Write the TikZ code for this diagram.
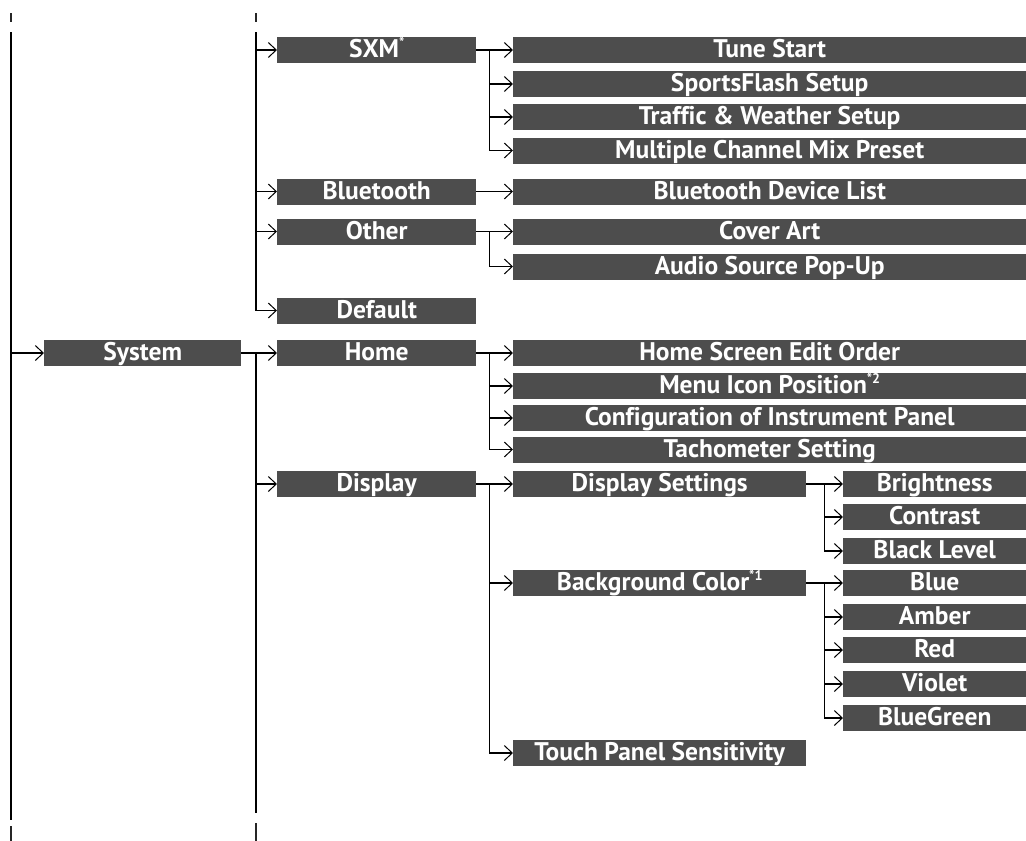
\documentclass[tikz,border=0pt]{standalone}
\usepackage{fontspec}
\setmainfont{PT Sans}[Ligatures=CommonOff]
\usetikzlibrary{positioning,arrows.meta}
\definecolor{boxgray}{RGB}{77,77,77}
\newcommand{\notemark}[1]{\raisebox{0.4em}{\fontsize{14}{14}\selectfont #1}}
\tikzset{
  menu/.style={fill=boxgray, text=white, anchor=west, inner sep=0pt,
               font=\fontsize{25.5}{25.5}\selectfont\bfseries,
               minimum height=26pt, text height=20.5pt, text depth=5.5pt},
  lvone/.style={menu, minimum width=197pt},
  lvtwo/.style={menu, minimum width=199pt},
  wide/.style={menu, minimum width=513pt},
  half/.style={menu, minimum width=293pt},
  leaf/.style={menu, minimum width=183pt},
  stem/.style={line width=1.5pt},
  flow/.style={stem, -{Straight Barb[length=8pt,width=15pt,line width=1pt]}},
  tick/.style={line width=1.2pt, black!85},
}
\begin{document}
\begin{tikzpicture}[x=1pt,y=-1pt]
  \useasboundingbox (0,0) rectangle (1026,841);
  % columns
  \node[lvone] (sys) at (44,353) {System};
  \node[lvtwo] (sxm) at (277,50) {SXM\notemark{*}};
  \node[lvtwo] (bt) at (277,191.5) {Bluetooth};
  \node[lvtwo] (other) at (277,231.5) {Other};
  \node[lvtwo] (def) at (277,310.5) {Default};
  \node[lvtwo] (home) at (277,353) {Home};
  \node[lvtwo] (disp) at (277,484) {Display};
  \node[wide] (tune) at (513,50) {Tune Start};
  \node[wide] (sports) at (513,84) {SportsFlash Setup};
  \node[wide] (traffic) at (513,117) {Traffic \& Weather Setup};
  \node[wide] (mix) at (513,150.5) {Multiple Channel Mix Preset};
  \node[wide] (btlist) at (513,191.5) {Bluetooth Device List};
  \node[wide] (cover) at (513,231.5) {Cover Art};
  \node[wide] (popup) at (513,266.5) {Audio Source Pop-Up};
  \node[wide] (hsedit) at (513,353) {Home Screen Edit Order};
  \node[wide] (icon) at (513,386) {Menu Icon Position\notemark{*2}};
  \node[wide] (config) at (513,418) {Configuration of Instrument Panel};
  \node[wide] (tacho) at (513,449.5) {Tachometer Setting};
  \node[half] (dset) at (513,484) {Display Settings};
  \node[half] (bgcol) at (513,583) {Background Color\notemark{*1}};
  \node[half] (touch) at (513,753) {Touch Panel Sensitivity};
  \node[leaf] (bright) at (843,484) {Brightness};
  \node[leaf] (contr) at (843,517) {Contrast};
  \node[leaf] (black) at (843,551) {Black Level};
  \node[leaf] (blue) at (843,583) {Blue};
  \node[leaf] (amber) at (843,617) {Amber};
  \node[leaf] (red) at (843,650) {Red};
  \node[leaf] (violet) at (843,684) {Violet};
  \node[leaf] (bgreen) at (843,718) {BlueGreen};
  % rails
  \coordinate (topA) at (11,32);
  \coordinate (botA) at (11,820);
  \coordinate (topB) at (256,32);
  \coordinate (botB) at (256,813);
  \foreach \x in {11,256} \draw[tick] (\x,13) -- (\x,22);
  \draw[tick] (11,826) -- (11,841);
  \draw[tick] (256,823) -- (256,841);
  \draw[stem] (topA) -- (botA);
  \draw[flow] (topA |- sys.west) -- (sys);
  \draw[flow] (topB) |- (def);
  \foreach \n in {sxm,bt,other} \draw[flow] (topB |- \n.west) -- (\n);
  \draw[flow] (sys) -- (home);
  \draw[stem] (botB |- home.west) -- (botB);
  \draw[flow] (botB |- disp.west) -- (disp);
  % branches
  \foreach \n in {tune,sports,traffic,mix} \draw[flow] (sxm.east) -- ++(13,0) |- (\n);
  \draw[flow] (bt) -- (btlist);
  \foreach \n in {cover,popup} \draw[flow] (other.east) -- ++(13,0) |- (\n);
  \foreach \n in {hsedit,icon,config,tacho} \draw[flow] (home.east) -- ++(13,0) |- (\n);
  \foreach \n in {dset,bgcol,touch} \draw[flow] (disp.east) -- ++(13,0) |- (\n);
  \foreach \n in {bright,contr,black} \draw[flow] (dset.east) -- ++(18,0) |- (\n);
  \foreach \n in {blue,amber,red,violet,bgreen} \draw[flow] (bgcol.east) -- ++(18,0) |- (\n);
\end{tikzpicture}
\end{document}
